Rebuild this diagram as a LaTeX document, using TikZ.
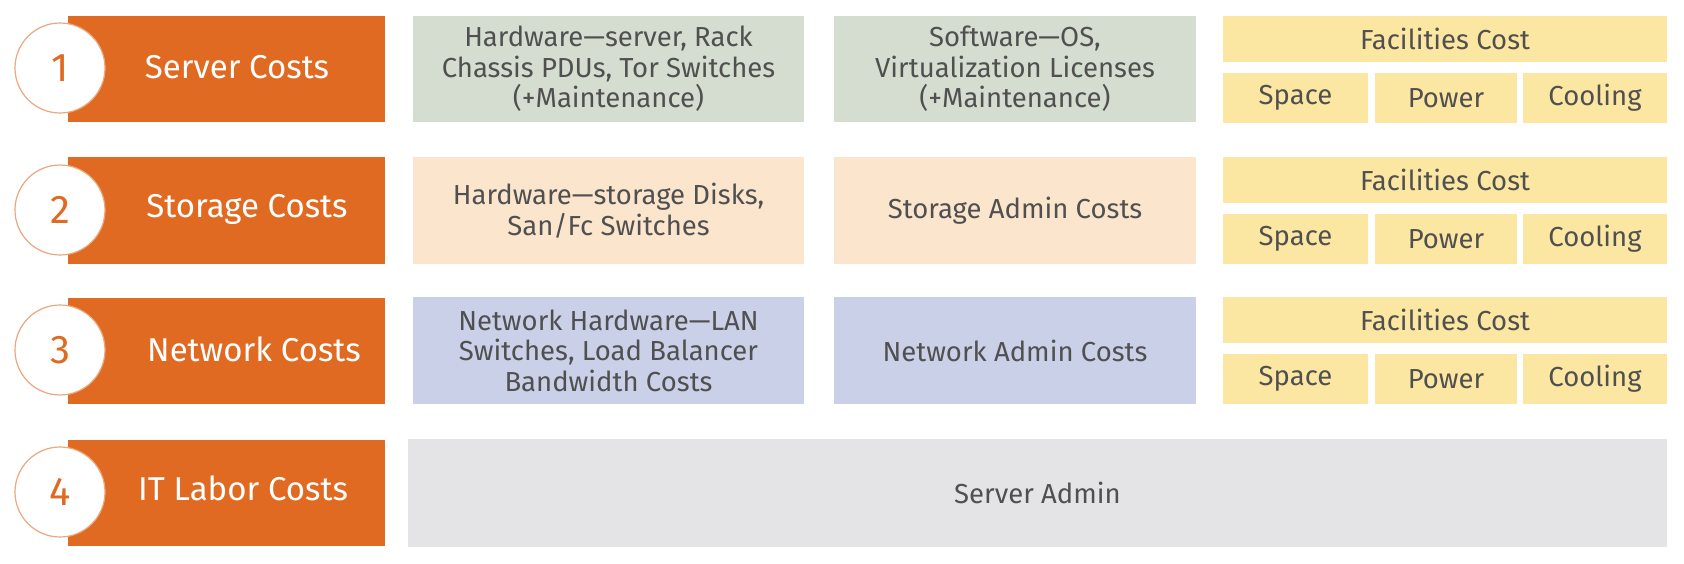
\documentclass[tikz,border=0pt]{standalone}
\usepackage{fontspec}
\setmainfont{Fira Sans}
\newfontfamily\midfont{Fira Sans}
\definecolor{orng}{HTML}{E16A22}
\definecolor{ring}{HTML}{E9A87E}
\definecolor{grn}{HTML}{D5DDD0}
\definecolor{pch}{HTML}{FBE6CD}
\definecolor{lav}{HTML}{C9D0E8}
\definecolor{ylw}{HTML}{FCE7A2}
\definecolor{gry}{HTML}{E4E4E6}
\definecolor{txt}{HTML}{505050}
\tikzset{
  obox/.style={fill=orng, draw=none, minimum width=317pt, minimum height=106pt, inner sep=0pt},
  olabel/.style={text=white, font=\fontsize{33}{36}\selectfont, inner sep=0pt},
  ring/.style={circle, fill=white, draw=ring, line width=1.2pt, minimum size=90pt, inner sep=0pt, text=orng, font=\fontsize{40}{44}\selectfont},
  cbox/.style={draw=none, inner sep=0pt, text=txt, align=center, font=\midfont\fontsize{27.5}{30.5}\selectfont},
  fbox/.style={fill=ylw, draw=none, inner sep=0pt, text=txt, font=\fontsize{27.5}{30}\selectfont},
}
\begin{document}
\begin{tikzpicture}[x=1pt,y=-1pt]
\useasboundingbox (0,0) rectangle (1684,564);
% orange boxes
\node[obox] (o1) at (226.5,69) {};
\node[obox] (o2) at (226.5,210.5) {};
\node[obox] (o3) at (226.5,350.5) {};
\node[obox] (o4) at (226.5,493) {};
\node[ring] (c1) at (60,68) {1};
\node[ring] (c2) at (60,210) {2};
\node[ring] (c3) at (60,350) {3};
\node[ring] (c4) at (60,492) {4};
\node[olabel] (l1) at (237,67) {Server Costs};
\node[olabel] (l2) at (247,209) {Storage Costs};
\node[olabel] (l3) at (254,349) {Network Costs};
\node[olabel] (l4) at (243,488) {IT Labor Costs};
% row 1
\node[cbox, fill=grn, minimum width=391pt, minimum height=106pt] (h1) at (608.5,69) {Hardware—server, Rack\\Chassis PDUs, Tor Switches\\(+Maintenance)};
\node[cbox, fill=grn, minimum width=362pt, minimum height=106pt] (s1) at (1015,69) {Software—OS,\\Virtualization Licenses\\(+Maintenance)};
% row 2
\node[cbox, fill=pch, minimum width=391pt, minimum height=107pt] (h2) at (608.5,210.5) {Hardware—storage Disks,\\San/Fc Switches};
\node[cbox, fill=pch, minimum width=362pt, minimum height=107pt] (s2) at (1015,210.5) {Storage Admin Costs};
% row 3
\node[cbox, fill=lav, minimum width=391pt, minimum height=107pt] (h3) at (608.5,350.5) {Network Hardware—LAN\\Switches, Load Balancer\\Bandwidth Costs};
\node[cbox, fill=lav, minimum width=362pt, minimum height=107pt] (s3) at (1015,350.5) {Network Admin Costs};
% facilities
\foreach \r/\t in {1/16, 2/157, 3/297}{
  \node[fbox, minimum width=444pt, minimum height=46pt] (f\r) at (1445,\t+23) {Facilities Cost};
  \node[fbox, minimum width=145pt, minimum height=50pt] (sp\r) at (1295.5,\t+82) {Space};
  \node[fbox, minimum width=142pt, minimum height=50pt] (pw\r) at (1446,\t+82) {Power};
  \node[fbox, minimum width=144pt, minimum height=50pt] (cl\r) at (1595,\t+82) {Cooling};
}
% row 4
\node[cbox, fill=gry, minimum width=1259pt, minimum height=108pt] (sa) at (1037.5,493) {Server Admin};
\end{tikzpicture}
\end{document}
